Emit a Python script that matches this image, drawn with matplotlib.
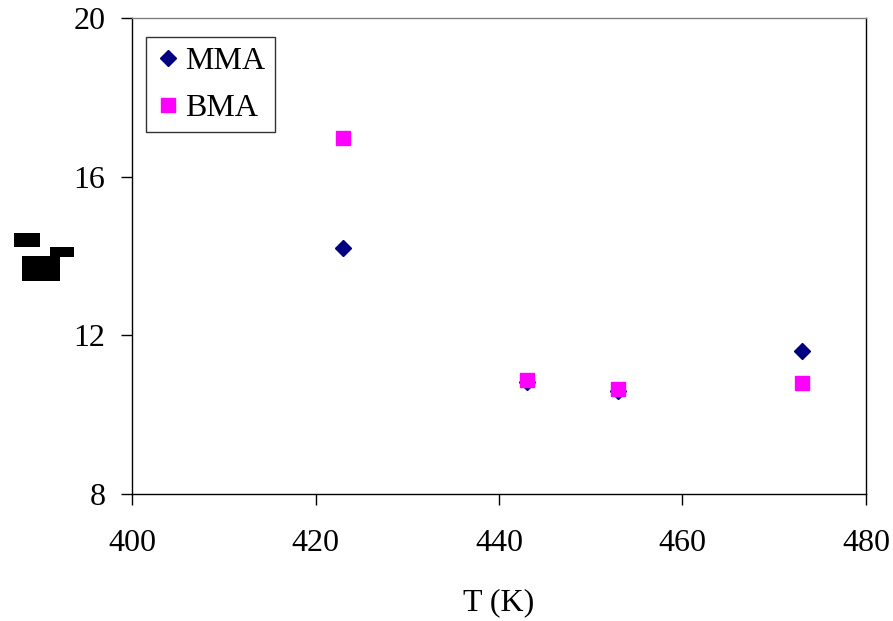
import matplotlib
matplotlib.use("Agg")
import matplotlib.pyplot as plt
from matplotlib.patches import Rectangle

# temperatures and measured values for the two monomers
temp_mma = [423, 443, 453, 473]
val_mma = [14.2, 10.83, 10.6, 11.6]
temp_bma = [423, 443, 453, 473]
val_bma = [16.98, 10.88, 10.65, 10.8]

x_ticks = [400, 420, 440, 460, 480]
y_ticks = [8, 12, 16, 20]

plt.rcParams['font.family'] = ['Liberation Serif', 'DejaVu Serif']

W, H = 893, 621
fig = plt.figure(figsize=(W / 100, H / 100), dpi=100)
ax = fig.add_axes([132 / W, 1 - 494 / H, (866 - 132) / W, (494 - 18) / H])

ax.plot(temp_mma, val_mma, linestyle='none', marker='D', markersize=8.5,
        color='#000080', label='MMA')
ax.plot(temp_bma, val_bma, linestyle='none', marker='s', markersize=9.5,
        color='#FF00FF', label='BMA')

ax.set_xlim(400, 480)
ax.set_ylim(8, 20)
ax.set_xticks(x_ticks)
ax.set_yticks(y_ticks)
ax.tick_params(direction='out', length=8, width=1, labelsize=23)
ax.tick_params(axis='y', pad=11)
ax.tick_params(axis='x', pad=17)
for s in ax.spines.values():
    s.set_linewidth(1)
ax.spines['top'].set_color('#808080')

ax.set_xlabel('T (K)', fontsize=23, labelpad=22)

leg = ax.legend(loc='upper left', bbox_to_anchor=(14 / 734, 1 - 19 / 476),
                fontsize=23, frameon=True, fancybox=False, edgecolor='black',
                handlelength=0.8, handletextpad=0.12, borderpad=0.3,
                labelspacing=0.55, borderaxespad=0)
leg.get_frame().set_linewidth(1)

# y-axis label drawn as solid blocks
for x0, y0, x1, y1 in [(14, 233, 40, 247), (22, 256, 60, 281), (50, 247, 74, 257)]:
    fig.add_artist(Rectangle((x0 / W, 1 - y1 / H), (x1 - x0) / W, (y1 - y0) / H,
                             transform=fig.transFigure, facecolor='black',
                             edgecolor='none'))

fig.savefig('out.png', dpi=100)
